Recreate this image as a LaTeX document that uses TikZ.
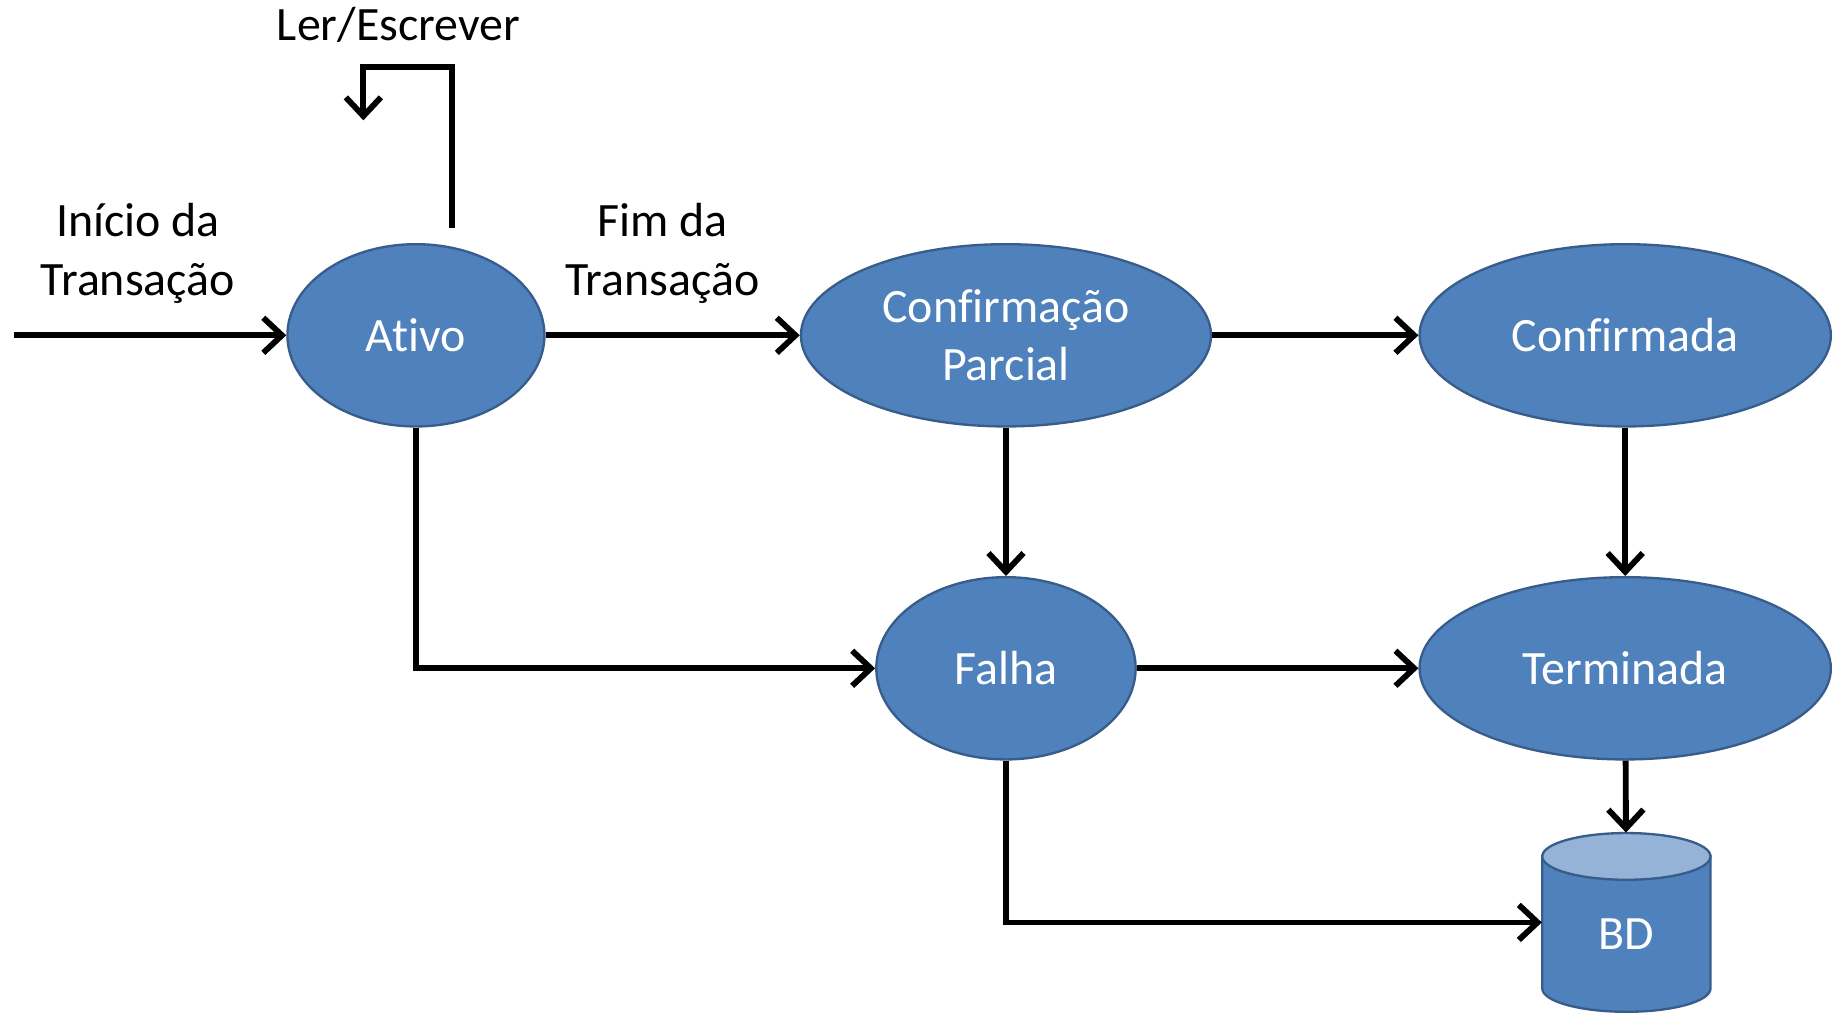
\documentclass[tikz,border=0pt]{standalone}
\usepackage{fontspec}
\setmainfont{Carlito}[Ligatures={NoCommon}]
\usetikzlibrary{arrows.meta,shapes.geometric}
\definecolor{nodefill}{HTML}{4F81BD}
\definecolor{nodeedge}{HTML}{385D8A}
\definecolor{dbtop}{HTML}{95B3D7}
\begin{document}
\begin{tikzpicture}[x=0.5pt,y=-0.5pt,
  state/.style={ellipse, fill=nodefill, draw=nodeedge, line width=1pt, text=white,
    font=\fontsize{20.5}{24.5}\selectfont, inner sep=0pt, align=center, minimum height=78pt},
  conn/.style={line width=2.5pt, -{Straight Barb[length=8pt,width=15pt,line width=2.5pt]}},
  lbl/.style={font=\fontsize{20.5}{25}\selectfont, align=center}]
\useasboundingbox[fill=white] (0,0) rectangle (1568,870);
% states
\node[state, minimum width=110pt] (ativo) at (356,287) {Ativo};
\node[state, minimum width=175.5pt] (conf) at (861,287) {Confirmação\\Parcial};
\node[state, minimum width=176pt] (confirmada) at (1391,287) {Confirmada};
\node[state, minimum width=111pt] (falha) at (861,572) {Falha};
\node[state, minimum width=176pt] (term) at (1391,572) {Terminada};
% database cylinder
\path[fill=nodefill, draw=nodeedge, line width=1pt] (1320,733) -- (1320,846)
  arc[start angle=180, end angle=360, x radius=36pt, y radius=10pt] -- (1464,733) -- cycle;
\draw[fill=dbtop, draw=nodeedge, line width=1pt] (1392,733) ellipse [x radius=36pt, y radius=10pt];
\node[minimum width=72pt, minimum height=76.5pt, inner sep=0pt,
  label={[text=white, font=\fontsize{20.5}{24}\selectfont, yshift=-5pt]center:BD}] (bd) at (1392,789.5) {};
% labels
\node[lbl] (lrw) at (341,21) {Ler/Escrever};
\node[lbl] (ini) at (118,217) {Início da\\Transação};
\node[lbl] (fim) at (567,217) {Fim da\\Transação};
% connectors
\coordinate (start) at (12,287);
\coordinate (loopstart) at (387,195);
\coordinate (loopend) at (311,103);
\draw[conn] (start) -- (ativo);
\draw[conn] (loopstart) -- (387,57) -- (311,57) -- (loopend);
\draw[conn] (ativo) -- (conf);
\draw[conn] (conf) -- (confirmada);
\draw[conn] (conf) -- (falha);
\draw[conn] (confirmada) -- (term);
\draw[conn] (ativo.south) |- (falha);
\draw[conn] (falha) -- (term);
\draw[conn] (term) -- (bd);
\draw[conn] (falha.south) |- (bd.west);
\end{tikzpicture}
\end{document}
